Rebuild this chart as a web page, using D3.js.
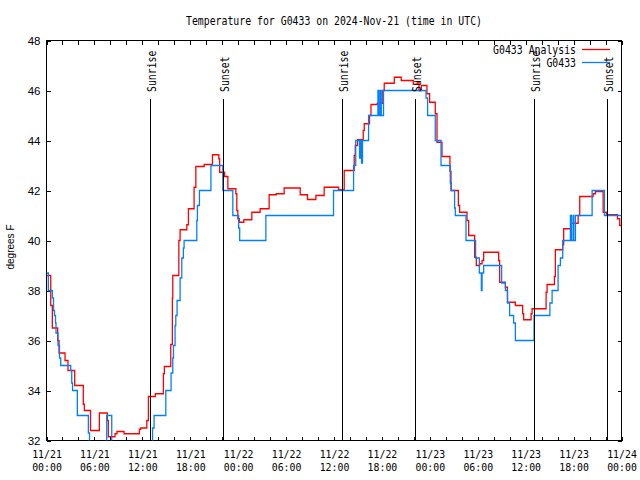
<!DOCTYPE html>
<html><head><meta charset="utf-8">
<script src="https://cdn.jsdelivr.net/npm/d3@7"></script>
<style>
body{margin:0;background:#fff;}
svg{display:block;background:#fff;}
</style></head><body>
<svg id="chart" width="640" height="480"></svg>
<script>
// ---------- data ----------
const titleText = "Temperature for G0433 on 2024-Nov-21 (time in UTC)";
const yLabelText = "degrees F";
const seriesNames = ["G0433 Analysis", "G0433"];
const seriesColors = ["#ff0000", "#0080ff"];
const xTickHours = [0, 6, 12, 18, 24, 30, 36, 42, 48, 54, 60, 66, 72];
const xTickDates = ["11/21","11/21","11/21","11/21","11/22","11/22","11/22","11/22","11/23","11/23","11/23","11/23","11/24"];
const xTickTimes = ["00:00","06:00","12:00","18:00","00:00","06:00","12:00","18:00","00:00","06:00","12:00","18:00","00:00"];
const yTicks = [32, 34, 36, 38, 40, 42, 44, 46, 48];
const sunEventNames = ["Sunrise","Sunset","Sunrise","Sunset","Sunrise","Sunset"];
const sunEventHours = [13.0, 22.14, 37.04, 46.18, 61.08, 70.22];

// hours since 11/21 00:00 UTC
const analysisHours = [0,0.53,0.73,1.40,1.57,2.32,2.69,3.53,4.61,4.74,5.51,6.62,7.62,7.74,8.58,8.83,9.71,11.63,11.8,12.56,12.76,13.63,14.64,14.76,15.56,15.76,15.81,16.57,16.73,17.57,17.77,18.48,18.7,19.74,20.78,21.58,21.68,22.3,22.71,23.71,23.83,23.96,24.16,24.71,25.71,26.75,27.88,28.76,29.76,31.77,32.68,33.73,34.77,36.57,37.28,38.53,38.66,38.95,39.66,39.79,40.45,40.63,41.42,42.11,42.29,43.55,44.42,45.93,46.43,46.64,46.93,47.64,47.97,48.68,48.9,49.52,50.52,50.65,51.57,51.73,52.65,52.86,53.61,53.82,54.24,54.54,54.74,56.62,56.74,57.46,57.71,58.71,59.62,59.75,60.68,60.8,62.56,62.68,63.6,63.72,64.64,64.76,65.69,66.57,66.77,68.45,68.73,69.7,70.11,71.49,71.78,72];
const analysisTemps = [38.6,37.4,36.5,36.0,35.5,35.2,34.8,34.2,33.45,33.2,32.4,33.1,32.8,32.15,32.27,32.36,32.27,32.45,32.5,32.8,33.76,33.87,34.67,34.96,35.84,37.7,38.6,40.0,40.43,40.63,41.27,42.13,42.96,43.04,43.43,43.27,42.73,42.56,42.07,41.87,41.2,40.87,40.73,40.83,41.13,41.27,41.83,41.87,42.1,41.83,41.64,41.8,42.13,42.03,42.8,43.4,43.8,44.03,44.4,44.67,45.0,45.44,45.49,46.0,46.29,46.53,46.4,46.25,46.35,46.0,46.2,45.87,45.53,45.07,43.93,43.36,42.77,42.0,41.4,41.13,40.8,40.2,39.33,39.0,39.07,39.2,39.53,39.2,38.33,38.13,37.53,37.4,37.07,36.83,37.07,37.27,37.93,38.24,38.56,39.63,39.84,40.47,40.69,41.0,41.76,41.87,41.96,41.13,41.03,40.87,40.6,40.6];

const obsHours = [0,0.23,0.73,0.88,1.0,1.13,1.19,1.44,1.63,1.78,3.03,3.16,3.26,3.86,5.24,5.39,7.54,8.17,13.28,13.47,14.94,15.6,15.81,15.9,16.1,16.19,16.35,16.73,16.94,17.14,17.23,18.82,18.9,19.15,20.59,22.08,23.33,24.06,24.19,27.47,35.94,38.45,38.72,39.2,39.29,39.45,39.57,40.33,41.5,41.62,41.79,41.92,42.2,47.52,47.72,48.68,49.4,50.56,50.69,51.1,51.19,52.53,53.73,54.2,54.45,54.54,54.74,56.99,57.46,57.74,57.99,58.49,58.71,61.05,63.03,63.31,64.06,64.35,64.64,65.6,65.73,65.94,66.02,66.23,68.32,69.86,72];
const obsTemps = [38.7,38.0,37.7,37.2,37.0,36.7,36.3,35.8,35.3,35.0,34.8,34.3,34.0,33.0,32.3,31.5,33.0,31.5,32.5,33.0,34.0,34.7,35.3,35.8,36.6,37.0,37.6,38.5,39.3,39.7,40.0,40.8,41.4,42.0,43.0,42.0,41.0,40.5,40.0,41.0,42.0,43.0,44.0,43.3,44.0,43.1,44.0,45.0,46.0,45.0,46.0,45.0,46.0,45.7,45.0,44.0,43.0,42.3,42.0,41.3,41.0,40.0,39.3,38.7,38.0,38.7,39.0,38.3,38.0,37.5,37.0,36.7,36.0,37.0,37.5,38.0,39.0,39.3,40.0,41.0,40.0,41.0,40.0,41.0,42.0,41.0,41.0];

// ---------- layout ----------
const svg = d3.select("#chart");
const L = 46.5, R = 621.5, T = 40.5, B = 440.5;
const x = d3.scaleLinear().domain([0, 72]).range([L, R]);
const y = d3.scaleLinear().domain([32, 48]).range([B, T]);
const MONO = "'DejaVu Sans Mono', 'Liberation Mono', monospace";
const SANS = "'Liberation Sans', Arial, sans-serif";
const MONO_SIZE = 12, MONO_SX = 0.82;

function monoText(g, px, py, str, anchor, rot, size, sx) {
  size = size || MONO_SIZE; sx = sx || MONO_SX;
  return g.append("text")
    .attr("transform", `translate(${px},${py})` + (rot ? ` rotate(${rot})` : "") + ` scale(${sx},1)`)
    .attr("text-anchor", anchor)
    .attr("font-family", MONO).attr("font-size", size)
    .attr("fill", "#000").text(str);
}

svg.append("defs").append("clipPath").attr("id", "plotclip")
  .append("rect").attr("x", L).attr("y", T).attr("width", R - L).attr("height", B - T);

// axes (ticks point inward)
function styleAxis(g) {
  g.select(".domain").remove();
  g.selectAll(".tick line").attr("stroke", "#000").attr("shape-rendering", "crispEdges");
}
const minorHours = d3.range(0, 73, 2);
svg.append("g").attr("transform", `translate(0,${B})`)
  .call(d3.axisBottom(x).tickValues(minorHours).tickSize(-4).tickSizeOuter(0).tickFormat(""))
  .call(styleAxis);
svg.append("g").attr("transform", `translate(0,${T})`)
  .call(d3.axisTop(x).tickValues(minorHours).tickSize(-4).tickSizeOuter(0).tickFormat(""))
  .call(styleAxis);

// bottom labels: date line from the axis, time line as a second axis
const LAB_SIZE = 10.5, LAB_SX = 0.94;
function styleLabels(g) {
  g.selectAll(".tick text").attr("font-family", MONO).attr("font-size", LAB_SIZE)
    .attr("fill", "#000").attr("dy", null).attr("y", 0)
    .attr("transform", function () { return `translate(0,${d3.select(this).attr("data-y")}) scale(${LAB_SX},1)`; });
}
svg.append("g").attr("transform", `translate(0,${B})`)
  .call(d3.axisBottom(x).tickValues(xTickHours).tickSize(0).tickSizeOuter(0).tickFormat((d, i) => xTickDates[i]))
  .call(styleAxis)
  .call(g => g.selectAll(".tick text").attr("data-y", 17.8))
  .call(styleLabels);
svg.append("g").attr("transform", `translate(0,${B})`)
  .call(d3.axisBottom(x).tickValues(xTickHours).tickSize(0).tickSizeOuter(0).tickFormat((d, i) => xTickTimes[i]))
  .call(styleAxis)
  .call(g => g.selectAll(".tick text").attr("data-y", 30.3))
  .call(styleLabels);

svg.append("g").attr("transform", `translate(${L},0)`)
  .call(d3.axisLeft(y).tickValues(yTicks).tickSize(-4).tickPadding(6).tickSizeOuter(0).tickFormat(d3.format("d")))
  .call(styleAxis)
  .call(g => g.selectAll(".tick text").attr("font-family", SANS).attr("font-size", 11.5).attr("fill", "#000"));
svg.append("g").attr("transform", `translate(${R},0)`)
  .call(d3.axisRight(y).tickValues(yTicks).tickSize(-4).tickSizeOuter(0).tickFormat(""))
  .call(styleAxis);

// frame
svg.append("rect").attr("x", L).attr("y", T).attr("width", R - L).attr("height", B - T)
  .attr("fill", "none").attr("stroke", "#000").attr("stroke-width", 1).attr("shape-rendering", "crispEdges");

// series
const line = d3.line().x(d => x(d[0])).y(d => y(d[1])).curve(d3.curveStepAfter);
const plot = svg.append("g").attr("clip-path", "url(#plotclip)");
const seriesData = [
  d3.zip(analysisHours, analysisTemps),
  d3.zip(obsHours, obsTemps)
];
seriesData.forEach((data, i) => {
  plot.append("path").datum(data).attr("d", line)
    .attr("fill", "none").attr("stroke", seriesColors[i]).attr("stroke-width", 1.3);
});

// sunrise / sunset markers
sunEventHours.forEach((h, i) => {
  const lx = Math.round(x(h)) + 0.5;
  svg.append("line").attr("x1", lx).attr("x2", lx).attr("y1", B).attr("y2", 99)
    .attr("stroke", "#000").attr("stroke-width", 1).attr("shape-rendering", "crispEdges");
  monoText(svg, lx + 5, 92, sunEventNames[i], "start", -90);
});

// legend
seriesNames.forEach((name, i) => {
  const ly = 49.5 + i * 13;
  monoText(svg, 576, ly + 4.5, name, "end");
  svg.append("line").attr("x1", 582).attr("x2", 610).attr("y1", ly).attr("y2", ly)
    .attr("stroke", seriesColors[i]).attr("stroke-width", 1.3);
});

// title and y label
monoText(svg, (L + R) / 2, 25, titleText, "middle");
svg.append("text").attr("transform", "translate(13.5,247) rotate(-90)")
  .attr("text-anchor", "middle").attr("font-family", SANS).attr("font-size", 10)
  .attr("fill", "#000").text(yLabelText);
</script>
</body></html>
